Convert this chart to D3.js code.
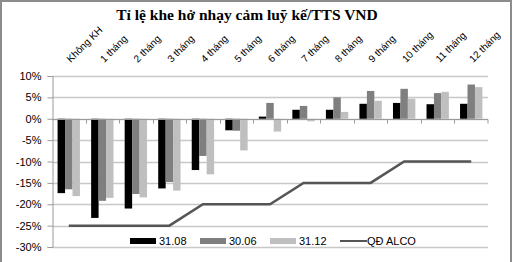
<!DOCTYPE html>
<html>
<head>
<meta charset="utf-8">
<script src="https://cdn.jsdelivr.net/npm/d3@7"></script>
<style>
  body { margin: 0; background: #fff; }
  svg { display: block; }
</style>
</head>
<body>
<div id="graph"></div>
<script>
var categories = ['Không KH', '1 tháng', '2 tháng', '3 tháng', '4 tháng', '5 tháng', '6 tháng',
                  '7 tháng', '8 tháng', '9 tháng', '10 tháng', '11 tháng', '12 tháng'];
var seriesNames = ['31.08', '30.06', '31.12'];
var s3108 = [-17.4, -23.2, -21.0, -16.3, -12.0, -2.7, 0.5, 2.1, 2.1, 3.5, 3.7, 3.4, 3.5];
var s3006 = [-16.5, -19.2, -17.6, -14.8, -8.7, -2.8, 3.7, 3.0, 5.0, 6.5, 7.0, 6.0, 8.0];
var s3112 = [-18.1, -18.5, -18.4, -16.8, -13.0, -7.4, -3.0, -0.6, 1.6, 4.2, 4.7, 6.3, 7.4];
var alco  = [-25, -25, -25, -25, -20, -20, -20, -15, -15, -15, -10, -10, -10];
var yTicks = [10, 5, 0, -5, -10, -15, -20, -25, -30];
var lineName = 'QĐ ALCO';

var colours = ['#000000', '#7f7f7f', '#bfbfbf'];
var seriesValues = [s3108, s3006, s3112];

var width = 513, height = 262;
var margin = {top: 76, right: 25, bottom: 15, left: 52};

var svg = d3.select('#graph')
    .append('svg')
    .attr('width', width)
    .attr('height', height);

// outer frame
svg.append('rect')
    .attr('x', 1).attr('y', 1)
    .attr('width', width - 3).attr('height', height + 5)
    .style('fill', 'white')
    .style('stroke', '#8c8c8c')
    .style('stroke-width', 2);

var x0 = d3.scaleBand()
    .domain(categories)
    .range([margin.left, width - margin.right]);

var x1 = d3.scaleBand()
    .domain(seriesNames)
    .range([0, x0.bandwidth()])
    .paddingOuter(0.75);

var y = d3.scaleLinear()
    .domain([-30, 10])
    .range([247, 76]);

// gridlines
svg.append('g')
    .selectAll('line')
    .data(yTicks)
    .enter().append('line')
    .attr('x1', margin.left)
    .attr('x2', width - margin.right)
    .attr('y1', function(d){ return Math.round(y(d)) + 0.5; })
    .attr('y2', function(d){ return Math.round(y(d)) + 0.5; })
    .style('stroke', '#c8c8c8')
    .style('stroke-width', 1.3);

// y axis
var vAxis = d3.axisLeft(y)
    .tickValues(yTicks)
    .tickSize(5)
    .tickFormat(function(d){ return d + '%'; });

var vGuide = svg.append('g')
    .attr('transform', 'translate(' + (margin.left + 0.5) + ',0)')
    .call(vAxis);
vGuide.select('.domain').style('stroke', '#9a9a9a');
vGuide.selectAll('line').style('stroke', '#9a9a9a');
vGuide.selectAll('text')
    .attr('x', -11)
    .style('font-family', '"Liberation Sans", Arial, sans-serif')
    .style('font-size', '11px')
    .style('fill', '#000');

// bars
var groups = svg.append('g')
    .selectAll('g')
    .data(seriesNames)
    .enter().append('g')
    .style('fill', function(d, i){ return colours[i]; });

groups.selectAll('rect')
    .data(function(d, i){
        return seriesValues[i].map(function(v, j){ return {s: d, c: categories[j], v: v}; });
    })
    .enter().append('rect')
    .attr('x', function(d){ return x0(d.c) + x1(d.s); })
    .attr('width', x1.bandwidth())
    .attr('y', function(d){ return y(Math.max(0, d.v)); })
    .attr('height', function(d){ return Math.abs(y(d.v) - y(0)); });

// category axis along 0%
var zeroY = Math.round(y(0)) + 0.5;
svg.append('line')
    .attr('x1', margin.left).attr('x2', width - margin.right)
    .attr('y1', zeroY).attr('y2', zeroY)
    .style('stroke', '#9a9a9a');

svg.append('g')
    .selectAll('line')
    .data(categories.slice(1).concat(['end']))
    .enter().append('line')
    .attr('x1', function(d){ return d === 'end' ? width - margin.right : Math.round(x0(d)) + 0.5; })
    .attr('x2', function(d){ return d === 'end' ? width - margin.right : Math.round(x0(d)) + 0.5; })
    .attr('y1', zeroY).attr('y2', zeroY + 4)
    .style('stroke', '#9a9a9a');

// category labels at top
svg.append('g')
    .selectAll('text')
    .data(categories)
    .enter().append('text')
    .attr('transform', function(d){
        return 'translate(' + (x0(d) + x0.bandwidth() / 2 + 2) + ',63) rotate(-45)';
    })
    .style('font-family', '"Liberation Sans", Arial, sans-serif')
    .style('font-size', '10px')
    .style('fill', '#000')
    .text(function(d){ return d; });

// QD ALCO line
var line = d3.line()
    .x(function(d, i){ return x0(categories[i]) + x0.bandwidth() / 2; })
    .y(function(d){ return y(d); });

svg.append('path')
    .datum(alco)
    .attr('d', line)
    .style('fill', 'none')
    .style('stroke', '#555555')
    .style('stroke-width', 2.5);

// title
svg.append('text')
    .attr('x', 247)
    .attr('y', 20)
    .attr('text-anchor', 'middle')
    .style('font-family', '"Liberation Serif", "Times New Roman", serif')
    .style('font-weight', 'bold')
    .style('font-size', '15.5px')
    .text('Tỉ lệ khe hở nhạy cảm luỹ kế/TTS VND');

// legend
var legendX = [130, 200, 270];
var legend = svg.append('g');
seriesNames.forEach(function(name, i){
    legend.append('rect')
        .attr('x', legendX[i]).attr('y', 238)
        .attr('width', 26).attr('height', 6)
        .style('fill', colours[i]);
    legend.append('text')
        .attr('x', legendX[i] + 29).attr('y', 245)
        .style('font-family', '"Liberation Sans", Arial, sans-serif')
        .style('font-size', '11px')
        .text(name);
});
legend.append('line')
    .attr('x1', 340).attr('x2', 367)
    .attr('y1', 241).attr('y2', 241)
    .style('stroke', '#555555')
    .style('stroke-width', 2);
legend.append('text')
    .attr('x', 367).attr('y', 245)
    .style('font-family', '"Liberation Sans", Arial, sans-serif')
    .style('font-size', '11px')
    .text(lineName);
</script>
</body>
</html>
